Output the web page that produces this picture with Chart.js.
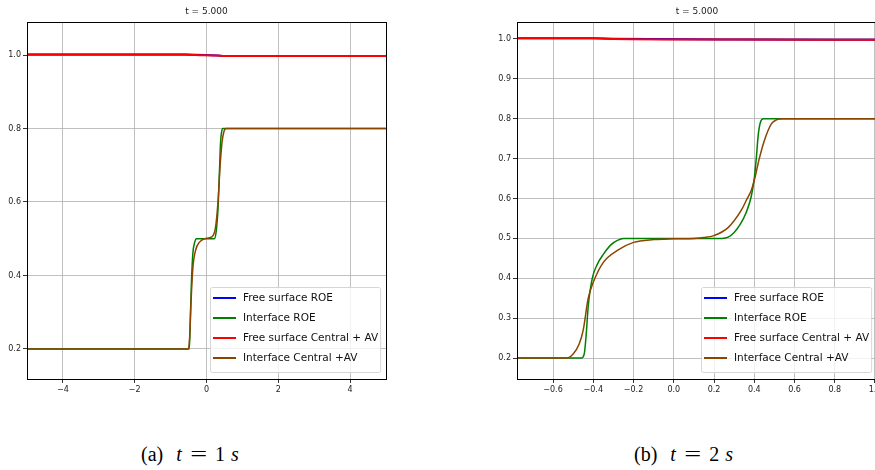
<!DOCTYPE html>
<html lang="en">
<head>
    <meta charset="UTF-8">
    <title>Two-layer shallow water: free surface and interface</title>
    <script src="https://cdn.jsdelivr.net/npm/chart.js"></script>
    <style>
        body {
            margin: 0;
            width: 875px;
            height: 470px;
            overflow: hidden;
            background: #fff;
            position: relative;
        }
        canvas {
            position: absolute;
            top: 0;
        }
        #chartA { left: 0; }
        #chartB { left: 460px; }
        .caption {
            position: absolute;
            top: 443px;
            font-family: "Liberation Serif", "DejaVu Serif", serif;
            font-size: 20px;
            color: #000;
            white-space: nowrap;
        }
        .caption i { font-style: italic; }
        .caption .lbl { margin-right: 13px; }
        .caption .eq { display: inline-block; margin: 0 11px; transform: scaleX(1.5); }
        .caption .unit { margin-left: 6px; }
    </style>
</head>
<body>
<canvas id="chartA" width="400" height="400"></canvas>
<canvas id="chartB" width="420" height="400"></canvas>
<div class="caption" style="left:141px;"><span class="lbl">(a)</span><i>t</i><span class="eq">=</span>1<i class="unit">s</i></div>
<div class="caption" style="left:634px;"><span class="lbl">(b)</span><i>t</i><span class="eq">=</span>2<i class="unit">s</i></div>

<script>
    // ---- t = 1 s ----
    const xTicksA = [-4, -2, 0, 2, 4];
    const yTicksA = [0.2, 0.4, 0.6, 0.8, 1.0];

    const surfRoeXA = [-5, -0.6, -0.3, 0.3, 0.5, 5];
    const surfRoeYA = [1.0015, 1.0015, 1.0005, 0.999, 0.9975, 0.9975];
    const surfAvXA = [-5, -0.6, -0.3, 0.3, 0.5, 5];
    const surfAvYA = [1.0015, 1.0015, 1.0, 0.9985, 0.9975, 0.9975];

    const ifaceRoeXA = [-5, -0.48, -0.46, -0.42, -0.38, -0.33, -0.28, 0.22, 0.27, 0.32, 0.36, 0.39, 0.42, 0.45, 5];
    const ifaceRoeYA = [0.2, 0.2, 0.25, 0.38, 0.46, 0.49, 0.5, 0.5, 0.52, 0.58, 0.68, 0.76, 0.79, 0.8, 0.8];
    const ifaceAvXA = [-5, -0.52, -0.47, -0.43, -0.38, -0.3, -0.2, -0.05, 0.15, 0.25, 0.32, 0.38, 0.43, 0.48, 0.55, 5];
    const ifaceAvYA = [0.2, 0.2, 0.23, 0.33, 0.42, 0.47, 0.49, 0.5, 0.505, 0.53, 0.6, 0.7, 0.76, 0.79, 0.8, 0.8];

    // ---- t = 2 s ----
    const xTicksB = [-0.6, -0.4, -0.2, 0.0, 0.2, 0.4, 0.6, 0.8, 1.0];
    const yTicksB = [0.2, 0.3, 0.4, 0.5, 0.6, 0.7, 0.8, 0.9, 1.0];

    const surfRoeXB = [-0.8, -0.4, -0.3, 0.3, 1.05];
    const surfRoeYB = [1.0015, 1.0015, 1.0005, 0.9985, 0.998];
    const surfAvXB = [-0.8, -0.4, -0.3, 0.3, 1.05];
    const surfAvYB = [1.0015, 1.0015, 1.0, 0.9985, 0.998];

    const ifaceRoeXB = [-0.8, -0.46, -0.445, -0.435, -0.425, -0.405, -0.38, -0.35, -0.31, -0.28, -0.25, 0.24, 0.27, 0.3, 0.33, 0.36, 0.385, 0.4, 0.41, 0.42, 0.43, 0.445, 1.05];
    const ifaceRoeYB = [0.2, 0.2, 0.21, 0.26, 0.33, 0.4, 0.435, 0.46, 0.485, 0.495, 0.5, 0.5, 0.503, 0.515, 0.535, 0.565, 0.605, 0.65, 0.7, 0.76, 0.79, 0.8, 0.8];
    const ifaceAvXB = [-0.8, -0.53, -0.5, -0.47, -0.45, -0.425, -0.4, -0.35, -0.28, -0.2, -0.1, 0.0, 0.1, 0.15, 0.2, 0.27, 0.335, 0.36, 0.385, 0.4, 0.425, 0.45, 0.485, 0.51, 0.54, 1.05];
    const ifaceAvYB = [0.2, 0.2, 0.21, 0.235, 0.27, 0.35, 0.39, 0.44, 0.47, 0.49, 0.497, 0.499, 0.5, 0.502, 0.507, 0.527, 0.57, 0.595, 0.62, 0.645, 0.7, 0.745, 0.787, 0.797, 0.8, 0.8];

    const seriesNames = ['Free surface ROE', 'Interface ROE', 'Free surface Central + AV', 'Interface Central +AV'];
    const seriesColors = ['#0000ff', '#008000', '#ff0000', '#8b4500'];
    const seriesWidths = [2, 1.5, 2, 1.5];

    Chart.defaults.font.family = 'DejaVu Sans';
    Chart.defaults.color = '#222';

    const toPoints = (xs, ys) => xs.map((x, i) => ({x: x, y: ys[i]}));
    const fmt = (v, digits) => v.toFixed(digits).replace('-', '\u2212');

    // spines, title and an in-axes legend (bottom right)
    const decorPlugin = {
        id: 'decor',
        afterDraw(chart) {
            const ctx = chart.ctx;
            const a = chart.chartArea;
            ctx.save();

            ctx.strokeStyle = '#000';
            ctx.lineWidth = 1;
            ctx.strokeRect(Math.round(a.left) + 0.5, Math.round(a.top) + 0.5,
                Math.round(a.right - a.left), Math.round(a.bottom - a.top));

            ctx.fillStyle = '#222';
            ctx.font = '9px "DejaVu Sans"';
            ctx.textAlign = 'center';
            ctx.textBaseline = 'middle';
            ctx.fillText('t = 5.000', (a.left + a.right) / 2, 12);

            ctx.font = '10.5px "DejaVu Sans"';
            const textW = Math.max(...seriesNames.map(n => ctx.measureText(n).width));
            const boxW = 3 + 23 + 7 + textW + 2;
            const boxH = 85;
            const bx = Math.round(a.right - 6 - boxW);
            const by = a.bottom - 7 - boxH;
            ctx.beginPath();
            ctx.roundRect(bx + 0.5, by + 0.5, boxW, boxH, 2);
            ctx.fillStyle = 'rgba(255,255,255,0.8)';
            ctx.fill();
            ctx.strokeStyle = '#d6d6d6';
            ctx.lineWidth = 1;
            ctx.stroke();

            ctx.textAlign = 'left';
            seriesNames.forEach((name, i) => {
                const cy = by + 11 + i * 20;
                ctx.beginPath();
                ctx.moveTo(bx + 3, cy);
                ctx.lineTo(bx + 26, cy);
                ctx.strokeStyle = seriesColors[i];
                ctx.lineWidth = 2;
                ctx.stroke();
                ctx.fillStyle = '#111';
                ctx.fillText(name, bx + 33, cy);
            });
            ctx.restore();
        }
    };

    function makeChart(id, cfg) {
        const data = [
            toPoints(cfg.surfRoe[0], cfg.surfRoe[1]),
            toPoints(cfg.ifaceRoe[0], cfg.ifaceRoe[1]),
            toPoints(cfg.surfAv[0], cfg.surfAv[1]),
            toPoints(cfg.ifaceAv[0], cfg.ifaceAv[1])
        ];
        new Chart(document.getElementById(id), {
            type: 'line',
            data: {
                datasets: data.map((pts, i) => ({
                    label: seriesNames[i],
                    data: pts,
                    borderColor: seriesColors[i],
                    borderWidth: seriesWidths[i],
                    pointRadius: 0,
                    cubicInterpolationMode: 'monotone',
                    fill: false,
                    order: 4 - i
                }))
            },
            options: {
                responsive: false,
                animation: false,
                devicePixelRatio: 1,
                layout: {padding: {top: 22, right: cfg.padRight, left: 0, bottom: 0}},
                plugins: {
                    legend: {display: false},
                    tooltip: {enabled: false}
                },
                scales: {
                    x: {
                        type: 'linear',
                        min: cfg.xMin,
                        max: cfg.xMax,
                        afterBuildTicks: s => { s.ticks = cfg.xTicks.map(v => ({value: v})); },
                        afterFit: s => { s.height = 21; s.paddingLeft = 0; s.paddingRight = 0; },
                        ticks: {
                            font: {size: 8},
                            padding: 2,
                            maxRotation: 0,
                            callback: v => fmt(v, cfg.xDigits)
                        },
                        grid: {color: '#b0b0b0', lineWidth: 0.8, tickLength: 4, tickColor: '#000', tickWidth: 0.8},
                        border: {display: true, color: '#000', width: 1}
                    },
                    y: {
                        min: cfg.yMin,
                        max: cfg.yMax,
                        afterBuildTicks: s => { s.ticks = cfg.yTicks.map(v => ({value: v})); },
                        afterFit: s => { s.width = cfg.yWidth; s.paddingTop = 0; s.paddingBottom = 0; },
                        ticks: {
                            font: {size: 8},
                            padding: 2,
                            callback: v => fmt(v, 1)
                        },
                        grid: {color: '#b0b0b0', lineWidth: 0.8, tickLength: 4, tickColor: '#000', tickWidth: 0.8},
                        border: {display: true, color: '#000', width: 1}
                    }
                }
            },
            plugins: [decorPlugin]
        });
    }

    makeChart('chartA', {
        surfRoe: [surfRoeXA, surfRoeYA], ifaceRoe: [ifaceRoeXA, ifaceRoeYA],
        surfAv: [surfAvXA, surfAvYA], ifaceAv: [ifaceAvXA, ifaceAvYA],
        xTicks: xTicksA, yTicks: yTicksA, xDigits: 0,
        xMin: -5, xMax: 5, yMin: 0.118, yMax: 1.09,
        yWidth: 27, padRight: 14
    });

    makeChart('chartB', {
        surfRoe: [surfRoeXB, surfRoeYB], ifaceRoe: [ifaceRoeXB, ifaceRoeYB],
        surfAv: [surfAvXB, surfAvYB], ifaceAv: [ifaceAvXB, ifaceAvYB],
        xTicks: xTicksB, yTicks: yTicksB, xDigits: 1,
        xMin: -0.779, xMax: 1.01, yMin: 0.1475, yMax: 1.0425,
        yWidth: 57, padRight: 3
    });
</script>
</body>
</html>
